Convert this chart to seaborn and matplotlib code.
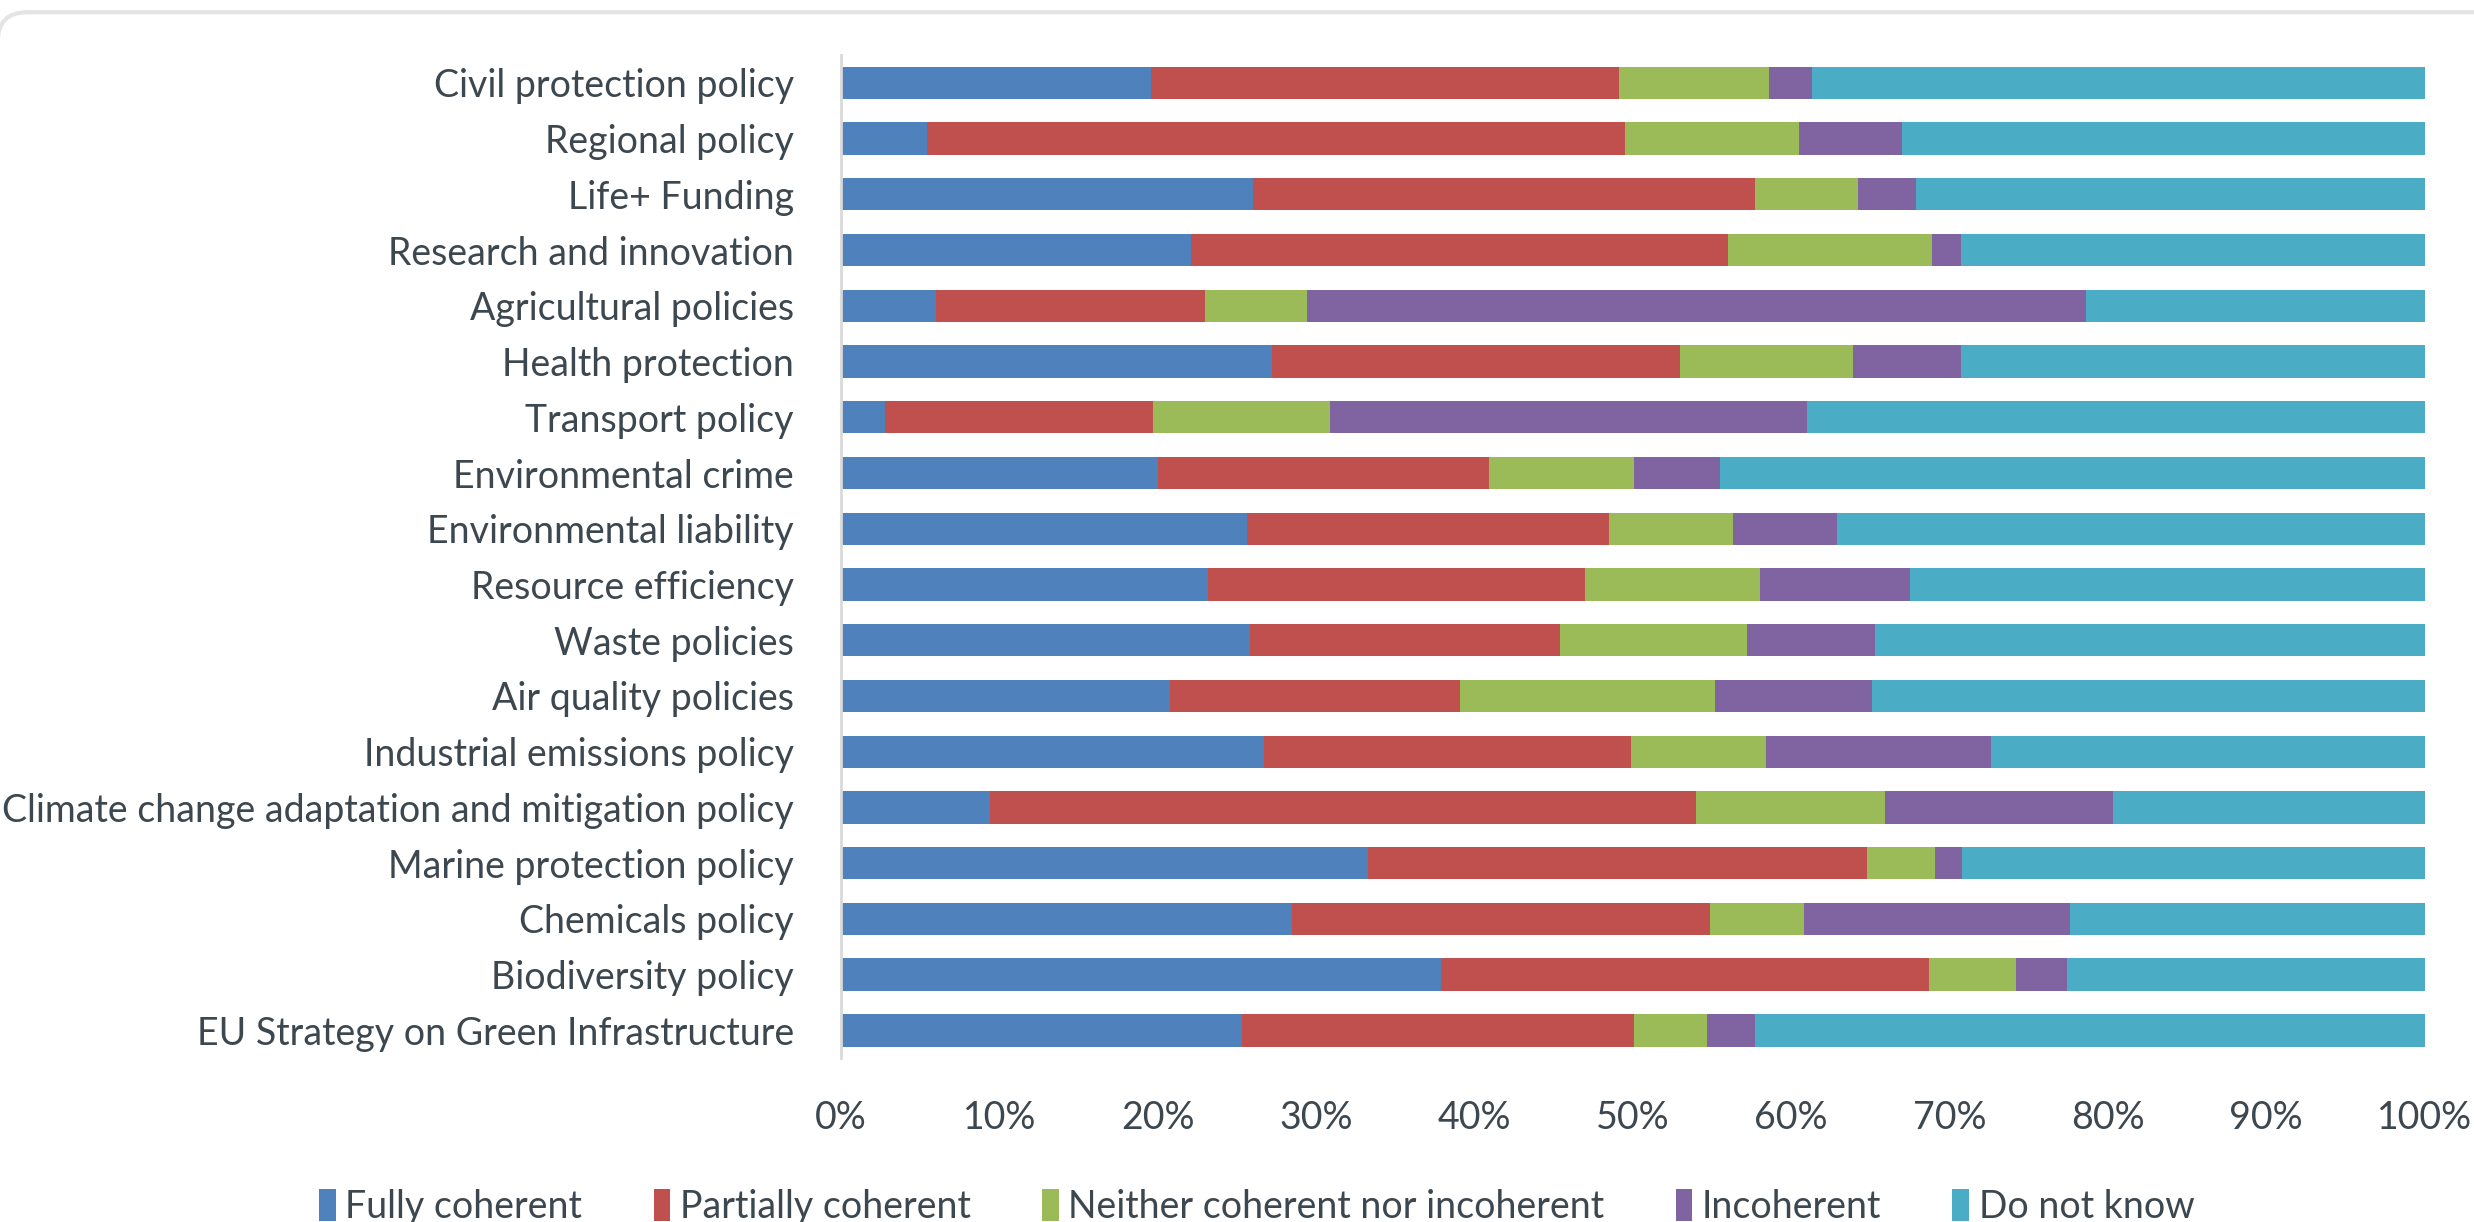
import numpy as np
import pandas as pd
import matplotlib as mpl
import matplotlib.pyplot as plt
import seaborn as sns
from matplotlib.patches import Patch, FancyBboxPatch
from matplotlib.ticker import PercentFormatter

mpl.use('Agg')

policies = [
    'Civil protection policy', 'Regional policy', 'Life+ Funding',
    'Research and innovation', 'Agricultural policies', 'Health protection',
    'Transport policy', 'Environmental crime', 'Environmental liability',
    'Resource efficiency', 'Waste policies', 'Air quality policies',
    'Industrial emissions policy',
    'Climate change adaptation and mitigation policy',
    'Marine protection policy', 'Chemicals policy', 'Biodiversity policy',
    'EU Strategy on Green Infrastructure',
]
answers = ['Fully coherent', 'Partially coherent',
           'Neither coherent nor incoherent', 'Incoherent', 'Do not know']

fully = [19.6, 5.4, 26.0, 22.1, 6.0, 27.2, 2.8, 20.0, 25.6, 23.2, 25.8, 20.8,
         26.7, 9.4, 33.3, 28.5, 37.9, 25.3]
partially = [29.5, 44.1, 31.7, 33.9, 17.0, 25.8, 16.9, 20.9, 22.9, 23.8, 19.6,
             18.3, 23.2, 44.6, 31.5, 26.4, 30.8, 24.8]
neither = [9.5, 11.0, 6.5, 12.9, 6.4, 10.9, 11.2, 9.2, 7.8, 11.0, 11.8, 16.1,
           8.5, 11.9, 4.3, 5.9, 5.5, 4.6]
incoherent = [2.7, 6.5, 3.7, 1.8, 49.2, 6.8, 30.1, 5.4, 6.6, 9.5, 8.1, 9.9,
              14.2, 14.4, 1.7, 16.8, 3.2, 3.0]
dont_know = [38.7, 33.0, 32.1, 29.3, 21.4, 29.3, 39.0, 44.5, 37.1, 32.5, 34.7,
             34.9, 27.4, 19.7, 29.2, 22.4, 22.6, 42.3]

colours = ['#4F81BD', '#C0504D', '#9BBB59', '#8064A2', '#4BACC6']
text_col = '#3d474f'
fs = 27

sns.set_theme(style='white')
plt.rcParams['font.family'] = ['Lato', 'DejaVu Sans']
plt.rcParams['text.color'] = text_col
plt.rcParams['xtick.color'] = text_col
plt.rcParams['ytick.color'] = text_col

df = pd.DataFrame({'policy': policies, answers[0]: fully, answers[1]: partially,
                   answers[2]: neither, answers[3]: incoherent,
                   answers[4]: dont_know})
cum = df[answers].cumsum(axis=1)

fig = plt.figure(figsize=(24.74, 12.22), dpi=100)
# card frame (only its top edge and top-left corner show)
card = FancyBboxPatch((-0.0009, -0.2), 1.2, 1.19, transform=fig.transFigure,
                      boxstyle='round,pad=0,rounding_size=0.012',
                      facecolor='white', edgecolor='#e4e4e4', linewidth=3,
                      zorder=-10, mutation_aspect=2.0)
fig.patches.append(card)

ax = fig.add_axes([0.340, 0.134, 0.640, 0.821])

# draw cumulative layers back to front so they look stacked
for i in range(len(answers) - 1, -1, -1):
    sns.barplot(x=cum[answers[i]], y=df['policy'], orient='h', color=colours[i],
                width=0.58, saturation=1, linewidth=0, ax=ax)

ax.set_xlim(0, 100)
ax.set_ylim(17.5, -0.5)
ax.set_xticks(np.arange(0, 101, 10))
ax.xaxis.set_major_formatter(PercentFormatter(decimals=0))
ax.set_xlabel('')
ax.set_ylabel('')
ax.tick_params(axis='x', labelsize=fs, length=0, pad=30)
ax.tick_params(axis='y', labelsize=fs, length=0, pad=34)
for s in ['top', 'right', 'bottom']:
    ax.spines[s].set_visible(False)
ax.spines['left'].set_color('#d9d9d9')
ax.spines['left'].set_linewidth(2)

handles = [Patch(facecolor=c, edgecolor='none') for c in colours]
fig.legend(handles, answers, loc='lower center', bbox_to_anchor=(0.508, -0.03),
           ncol=5, frameon=False, fontsize=fs, handlelength=0.45,
           handleheight=0.9, handletextpad=0.25, columnspacing=1.9)

fig.savefig('out.png', dpi=100)
